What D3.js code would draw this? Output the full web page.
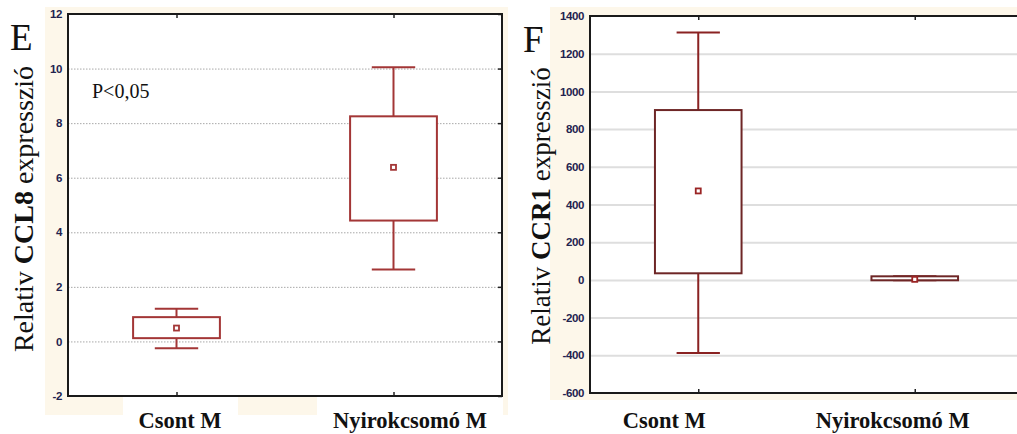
<!DOCTYPE html>
<html><head><meta charset="utf-8">
<script src="https://cdn.jsdelivr.net/npm/d3@7"></script>
<style>
html,body{margin:0;padding:0;background:#fff;}
svg{display:block;}
</style></head>
<body>
<script>
// ---- data ----
const categories = ["Csont M", "Nyirokcsomó M"];

// Panel E: CCL8
const ticksE = [-2, 0, 2, 4, 6, 8, 10, 12];
const meanE = [0.49, 6.38];
const q1E = [0.12, 4.43];
const q3E = [0.89, 8.25];
const minE = [-0.25, 2.64];
const maxE = [1.2, 10.05];

// Panel F: CCR1
const ticksF = [-600, -400, -200, 0, 200, 400, 600, 800, 1000, 1200, 1400];
const meanF = [472, 3];
const q1F = [35, -2];
const q3F = [901, 19];
const minF = [-388, -2];
const maxF = [1313, 19];

const W = 1017, H = 434;
const svg = d3.select("body").append("svg").attr("width", W).attr("height", H);
const serif = "'Liberation Serif','Times New Roman',serif";
const sans = "'Liberation Sans',Arial,sans-serif";
const cream = "#fdf7ea";
const fmt = d => String(d);

function panel(opt) {
  const g = svg.append("g");
  g.append("rect").attr("x", opt.bg[0]).attr("y", opt.bg[1])
    .attr("width", opt.bg[2]).attr("height", opt.bg[3]).attr("fill", cream);
  opt.whiteBoxes.forEach(b => g.append("rect").attr("x", b[0]).attr("y", b[1])
    .attr("width", b[2]).attr("height", b[3]).attr("fill", "#fff"));
  const [x0, y0, x1, y1] = opt.frame;
  const y = d3.scaleLinear().domain(opt.domain).range([y1, y0]);
  const x = d3.scalePoint().domain(categories).range([x0, x1]).padding(0.5);
  const step = x.step();
  g.append("rect").attr("x", x0).attr("y", y0).attr("width", x1 - x0).attr("height", y1 - y0).attr("fill", "#fff");
  const grid = g.append("g").attr("transform", `translate(${x0},0)`)
    .call(d3.axisLeft(y).tickValues(opt.ticks.slice(1, -1)).tickSize(-(x1 - x0)).tickFormat(""));
  grid.select(".domain").remove();
  grid.selectAll("line").attr("stroke", opt.gridColor).attr("stroke-width", opt.gridWidth)
    .attr("stroke-dasharray", opt.gridDash);
  const ax = g.append("g").attr("transform", `translate(${x0 - 4},0)`)
    .call(d3.axisLeft(y).tickValues(opt.ticks).tickSize(0).tickPadding(2).tickFormat(fmt));
  ax.select(".domain").remove();
  ax.selectAll("text").attr("font-family", sans).attr("font-size", 11.5).attr("font-weight", "bold")
    .attr("fill", "#23234f").attr("letter-spacing", -0.4);
  const rt = g.append("g").attr("transform", `translate(${x1},0)`)
    .call(d3.axisRight(y).tickValues(opt.ticks).tickSize(-4).tickFormat(""));
  rt.select(".domain").remove();
  rt.selectAll("line").attr("stroke", "#222").attr("stroke-width", 1.5);
  const bt = g.append("g").attr("transform", `translate(0,${y1})`)
    .call(d3.axisBottom(x).tickSize(-4).tickFormat(""));
  bt.select(".domain").remove();
  bt.selectAll("line").attr("stroke", "#222").attr("stroke-width", 1.5);
  const tt = g.append("g").attr("transform", `translate(0,${y0})`)
    .call(d3.axisTop(x).tickSize(-4).tickFormat(""));
  tt.select(".domain").remove();
  tt.selectAll("line").attr("stroke", "#222").attr("stroke-width", 1.5);
  g.append("rect").attr("x", x0).attr("y", y0).attr("width", x1 - x0).attr("height", y1 - y0)
    .attr("fill", "none").attr("stroke", "#1a1a1a").attr("stroke-width", 2);
  const bw = step * 0.2, cw = step * 0.1;
  categories.forEach((c, i) => {
    const cx = x(c);
    const bx = g.append("g");
    const line = (xa, xb, ya, yb) => bx.append("line").attr("x1", xa).attr("x2", xb).attr("y1", ya).attr("y2", yb)
      .attr("stroke", opt.whiskColor).attr("stroke-width", 2);
    line(cx, cx, y(opt.max[i]), y(opt.q3[i]));
    line(cx, cx, y(opt.q1[i]), y(opt.min[i]));
    line(cx - cw, cx + cw, y(opt.max[i]), y(opt.max[i]));
    line(cx - cw, cx + cw, y(opt.min[i]), y(opt.min[i]));
    bx.append("rect").attr("x", cx - bw).attr("width", 2 * bw)
      .attr("y", y(opt.q3[i])).attr("height", Math.max(1, y(opt.q1[i]) - y(opt.q3[i])))
      .attr("fill", "#fff").attr("stroke", opt.boxColor).attr("stroke-width", 2);
    bx.append("rect").attr("x", cx - 2.5).attr("y", y(opt.mean[i]) - 2.5).attr("width", 5).attr("height", 5)
      .attr("fill", "#fff").attr("stroke", opt.meanColor).attr("stroke-width", 1.8);
  });
  // category labels (pasted labels, offset from the category positions)
  categories.forEach((c, i) => {
    g.append("text").attr("x", x(c) + opt.catOffset[i]).attr("y", opt.catY).attr("text-anchor", "middle")
      .attr("font-family", serif).attr("font-weight", "bold").attr("font-size", 22.5).attr("fill", "#111").text(c);
  });
  g.append("text").attr("x", opt.letter[0]).attr("y", opt.letter[1]).attr("font-family", serif)
    .attr("font-size", 37).attr("fill", "#111").text(opt.letter[2]);
  const yl = g.append("text").attr("transform", `translate(${opt.ylab[0]},${opt.ylab[1]}) rotate(-90)`)
    .attr("text-anchor", "middle").attr("font-family", serif).attr("font-size", opt.ylab[2]).attr("fill", "#111");
  yl.append("tspan").text("Relativ ");
  yl.append("tspan").attr("font-weight", "bold").text(opt.gene);
  yl.append("tspan").text(" expresszió");
  return g;
}

panel({
  bg: [45, 7, 463, 408],
  whiteBoxes: [[123, 397, 115, 40], [317, 397, 186, 40]],
  frame: [68, 14, 502, 396],
  domain: [-2, 12], ticks: ticksE,
  gridColor: "#a8a8a8", gridWidth: 1, gridDash: "1.5,1.5",
  mean: meanE, q1: q1E, q3: q3E, min: minE, max: maxE,
  boxColor: "#a33636", whiskColor: "#a33636", meanColor: "#a33636",
  catY: 428, catOffset: [3.5, 16.5], letter: [10, 50, "E"], ylab: [33, 209, 28], gene: "CCL8"
});

panel({
  bg: [550, 7, 467, 393],
  whiteBoxes: [],
  frame: [590, 16, 1023, 393],
  domain: [-600, 1400], ticks: ticksF,
  gridColor: "#dedede", gridWidth: 2, gridDash: null,
  mean: meanF, q1: q1F, q3: q3F, min: minF, max: maxF,
  boxColor: "#6e2626", whiskColor: "#8a2222", meanColor: "#9a2424",
  catY: 428, catOffset: [-34, -22], letter: [523, 52, "F"], ylab: [550, 206, 27], gene: "CCR1"
});

svg.append("text").attr("x", 92).attr("y", 98).attr("font-family", serif).attr("font-size", 20)
  .attr("fill", "#111").text("P<0,05");
</script>
</body></html>
